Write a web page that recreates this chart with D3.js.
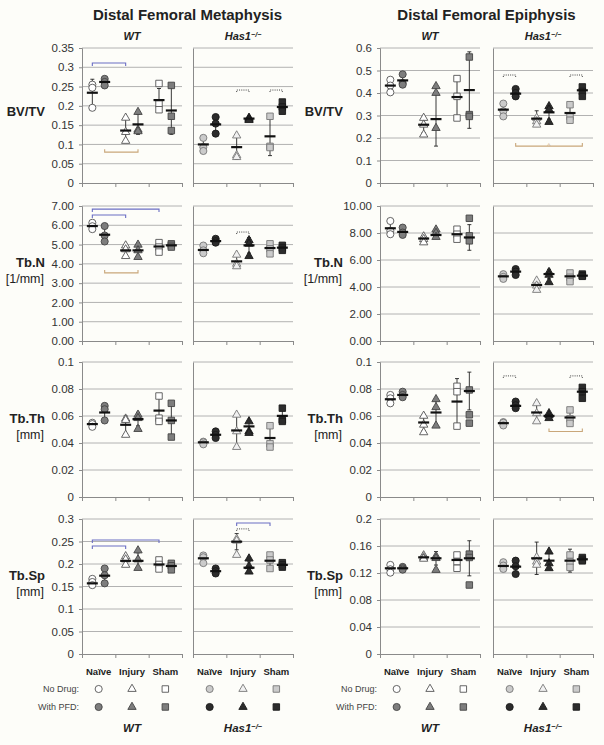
<!DOCTYPE html>
<html>
<head>
<meta charset="utf-8">
<script src="https://cdn.jsdelivr.net/npm/d3@7"></script>
<style>
body { margin: 0; background: #fdfdf9; }
text { font-family: "Liberation Sans", Arial, Helvetica, sans-serif; }
</style>
</head>
<body>
<script>

var categories = ["Naïve", "Injury", "Sham"];
var genotypes = ["WT", "Has1"];
var rowNames = [["BV/TV"], ["Tb.N", "[1/mm]"], ["Tb.Th", "[mm]"], ["Tb.Sp", "[mm]"]];

// tick values, one list per row
var metaTicks = [
    [0, 0.05, 0.1, 0.15, 0.2, 0.25, 0.3, 0.35],
    [0, 1, 2, 3, 4, 5, 6, 7],
    [0, 0.02, 0.04, 0.06, 0.08, 0.1],
    [0, 0.05, 0.1, 0.15, 0.2, 0.25, 0.3]
];
var epiTicks = [
    [0, 0.1, 0.2, 0.3, 0.4, 0.5, 0.6],
    [0, 2, 4, 6, 8, 10],
    [0, 0.02, 0.04, 0.06, 0.08, 0.1],
    [0, 0.04, 0.08, 0.12, 0.16, 0.2]
];

// 12 groups per panel row: WT (Naive no/PFD, Injury no/PFD, Sham no/PFD), then Has1 same order
var metaBVTV = [
    {p:[0.255,0.247,0.195], m:0.234, sd:0.035},
    {p:[0.270,0.262,0.253], m:0.262, sd:0.008},
    {p:[0.169,0.132,0.109], m:0.136, sd:0.030},
    {p:[0.184,0.138,0.134], m:0.152, sd:0.026},
    {p:[0.258,0.205,0.190], m:0.215, sd:0.030},
    {p:[0.253,0.173,0.136], m:0.188, sd:0.062},
    {p:[0.117,0.093,0.083], m:0.100, sd:0.015},
    {p:[0.171,0.154,0.128], m:0.152, sd:0.020},
    {p:[0.123,0.072,0.067], m:0.093, sd:0.032},
    {p:[0.169,0.166,0.163], m:0.167, sd:0.004},
    {p:[0.173,0.095,0.092], m:0.121, sd:0.050},
    {p:[0.210,0.197,0.186], m:0.197, sd:0.012}
];
var epiBVTV = [
    {p:[0.459,0.433,0.403], m:0.433, sd:0.028},
    {p:[0.483,0.444,0.437], m:0.456, sd:0.022},
    {p:[0.289,0.259,0.215], m:0.259, sd:0.035},
    {p:[0.430,0.400,0.244], m:0.284, sd:0.120},
    {p:[0.464,0.385,0.289], m:0.382, sd:0.082},
    {p:[0.560,0.304,0.296], m:0.413, sd:0.170},
    {p:[0.353,0.319,0.296], m:0.326, sd:0.030},
    {p:[0.418,0.400,0.385], m:0.397, sd:0.015},
    {p:[0.289,0.274,0.259], m:0.286, sd:0.035},
    {p:[0.341,0.326,0.271], m:0.314, sd:0.030},
    {p:[0.348,0.296,0.279], m:0.311, sd:0.035},
    {p:[0.427,0.407,0.385], m:0.412, sd:0.020}
];
var metaTbN = [
    {p:[6.13,5.95,5.80], m:5.96, sd:0.15},
    {p:[5.96,5.47,5.16], m:5.51, sd:0.40},
    {p:[4.95,4.75,4.40], m:4.70, sd:0.25},
    {p:[4.99,4.70,4.35], m:4.70, sd:0.30},
    {p:[5.10,4.87,4.61], m:4.90, sd:0.25},
    {p:[5.04,4.96,4.87], m:4.96, sd:0.08},
    {p:[4.95,4.70,4.55], m:4.72, sd:0.20},
    {p:[5.30,5.18,5.10], m:5.18, sd:0.10},
    {p:[4.47,4.00,3.87], m:4.13, sd:0.30},
    {p:[5.22,5.04,4.40], m:4.96, sd:0.40},
    {p:[5.04,4.78,4.52], m:4.82, sd:0.25},
    {p:[4.96,4.82,4.70], m:4.84, sd:0.12}
];
var epiTbN = [
    {p:[8.89,8.16,7.91], m:8.35, sd:0.50},
    {p:[8.40,8.03,7.86], m:8.08, sd:0.28},
    {p:[7.74,7.54,7.30], m:7.59, sd:0.20},
    {p:[8.25,8.00,7.70], m:7.85, sd:0.25},
    {p:[8.28,7.91,7.54], m:7.91, sd:0.35},
    {p:[9.09,7.79,7.42], m:7.67, sd:0.95},
    {p:[4.95,4.75,4.60], m:4.79, sd:0.17},
    {p:[5.33,5.14,4.89], m:5.14, sd:0.15},
    {p:[4.47,4.10,3.78], m:4.15, sd:0.30},
    {p:[5.10,4.90,4.35], m:4.96, sd:0.35},
    {p:[5.04,4.72,4.40], m:4.79, sd:0.30},
    {p:[4.96,4.84,4.79], m:4.84, sd:0.10}
];
var metaTbTh = [
    {p:[0.055,0.054,0.052], m:0.054, sd:0.002},
    {p:[0.0675,0.065,0.0567], m:0.0626, sd:0.005},
    {p:[0.058,0.057,0.046], m:0.0535, sd:0.0065},
    {p:[0.0609,0.0584,0.0503], m:0.0577, sd:0.005},
    {p:[0.0748,0.0584,0.056], m:0.064, sd:0.010},
    {p:[0.0694,0.0567,0.0444], m:0.0567, sd:0.012},
    {p:[0.041,0.0405,0.039], m:0.0405, sd:0.001},
    {p:[0.0486,0.046,0.0437], m:0.0461, sd:0.002},
    {p:[0.0609,0.0486,0.037], m:0.0493, sd:0.012},
    {p:[0.056,0.0486,0.0474], m:0.0523, sd:0.004},
    {p:[0.0528,0.0395,0.037], m:0.0437, sd:0.008},
    {p:[0.0658,0.0572,0.056], m:0.0601, sd:0.005}
];
var epiTbTh = [
    {p:[0.0756,0.0731,0.0694], m:0.0724, sd:0.003},
    {p:[0.078,0.0756,0.0739], m:0.0756, sd:0.002},
    {p:[0.0601,0.0535,0.0479], m:0.0552, sd:0.006},
    {p:[0.0724,0.0665,0.0528], m:0.0626, sd:0.010},
    {p:[0.082,0.078,0.0525], m:0.0707, sd:0.017},
    {p:[0.0793,0.0609,0.0547], m:0.0785, sd:0.014},
    {p:[0.0555,0.055,0.053], m:0.0547, sd:0.001},
    {p:[0.0707,0.068,0.0658], m:0.0675, sd:0.002},
    {p:[0.0694,0.062,0.056], m:0.0626, sd:0.006},
    {p:[0.062,0.0605,0.0584], m:0.0601, sd:0.002},
    {p:[0.0645,0.058,0.0545], m:0.0589, sd:0.005},
    {p:[0.0812,0.078,0.0731], m:0.078, sd:0.003}
];
var metaTbSp = [
    {p:[0.167,0.160,0.153], m:0.157, sd:0.007},
    {p:[0.190,0.175,0.157], m:0.174, sd:0.015},
    {p:[0.217,0.210,0.198], m:0.207, sd:0.008},
    {p:[0.230,0.210,0.191], m:0.207, sd:0.018},
    {p:[0.209,0.199,0.189], m:0.199, sd:0.010},
    {p:[0.2015,0.196,0.187], m:0.1956, sd:0.007},
    {p:[0.219,0.215,0.202], m:0.2127, sd:0.008},
    {p:[0.190,0.184,0.179], m:0.184, sd:0.005},
    {p:[0.2556,0.2518,0.220], m:0.2496, sd:0.018},
    {p:[0.212,0.195,0.183], m:0.1918, sd:0.013},
    {p:[0.220,0.209,0.190], m:0.2073, sd:0.015},
    {p:[0.203,0.198,0.193], m:0.198, sd:0.005}
];
var epiTbSp = [
    {p:[0.132,0.1255,0.1205], m:0.127, sd:0.005},
    {p:[0.129,0.127,0.125], m:0.127, sd:0.003},
    {p:[0.146,0.143,0.141], m:0.1432, sd:0.003},
    {p:[0.145,0.142,0.1244], m:0.1418, sd:0.010},
    {p:[0.1467,0.1368,0.127], m:0.1393, sd:0.010},
    {p:[0.148,0.143,0.1022], m:0.1418, sd:0.026},
    {p:[0.136,0.131,0.126], m:0.1304, sd:0.006},
    {p:[0.1383,0.130,0.1185], m:0.1294, sd:0.009},
    {p:[0.1432,0.1368,0.132], m:0.1418, sd:0.024},
    {p:[0.1516,0.1343,0.127], m:0.1383, sd:0.012},
    {p:[0.1467,0.1368,0.1284], m:0.1383, sd:0.017},
    {p:[0.143,0.140,0.138], m:0.1403, sd:0.003}
];

// significance brackets: a/b = group index inside the genotype (0..5), y in data units
var brackets = [
    {row:0, block:0, g:0, a:0, b:2, y:0.311, kind:"blue"},
    {row:0, block:0, g:0, a:1, b:3, y:0.080, kind:"tan"},
    {row:0, block:0, g:1, a:2, b:3, y:0.241, kind:"dot"},
    {row:0, block:0, g:1, a:4, b:5, y:0.241, kind:"dot"},
    {row:0, block:1, g:1, a:0, b:1, y:0.480, kind:"dot"},
    {row:0, block:1, g:1, a:4, b:5, y:0.480, kind:"dot"},
    {row:0, block:1, g:1, a:1, b:5, y:0.164, kind:"tan", mark:true},
    {row:1, block:0, g:0, a:0, b:4, y:6.84, kind:"blue"},
    {row:1, block:0, g:0, a:0, b:2, y:6.53, kind:"blue"},
    {row:1, block:0, g:0, a:1, b:3, y:3.53, kind:"tan"},
    {row:1, block:0, g:1, a:2, b:3, y:5.65, kind:"dot"},
    {row:2, block:1, g:1, a:0, b:1, y:0.0897, kind:"dot"},
    {row:2, block:1, g:1, a:4, b:5, y:0.0897, kind:"dot"},
    {row:2, block:1, g:1, a:3, b:5, y:0.0485, kind:"tan"},
    {row:3, block:0, g:0, a:0, b:4, y:0.2533, kind:"blue"},
    {row:3, block:0, g:0, a:0, b:2, y:0.240, kind:"blue"},
    {row:3, block:0, g:1, a:2, b:4, y:0.291, kind:"blue"},
    {row:3, block:0, g:1, a:2, b:3, y:0.278, kind:"dot"}
];

var blockData = [[metaBVTV, metaTbN, metaTbTh, metaTbSp], [epiBVTV, epiTbN, epiTbTh, epiTbSp]];
var blockTicks = [metaTicks, epiTicks];
var blockTitles = ["Distal Femoral Metaphysis", "Distal Femoral Epiphysis"];

// layout
var width = 604, height = 745;
var rowTop = [48, 206, 362, 519];
var rowH = 135;
var panelW = 100;
var panelX = [[82, 193], [380, 493]];
var drugOffset = [0.31, 0.68];

var fills = [["#ffffff", "#7d7d7d"], ["#cbcbcb", "#2c2c2c"]];
var strokes = [["#555", "#444"], ["#777", "#1a1a1a"]];
var shapes = [d3.symbolCircle, d3.symbolTriangle, d3.symbolSquare];
var shapeSize = [40, 30, 42];
var bracketColor = { blue: "#6b6ec4", tan: "#c9a77a", dot: "#444" };

// Has1 no-drug triangles read almost white in the figure
function fillFor(g, dr, c) {
    if (g == 1 && dr == 0 && c == 1) return "#f1f1f1";
    return fills[g][dr];
}

var svg = d3.select('body').append('svg')
    .attr('width', width)
    .attr('height', height);

function fmtFor(row) {
    return row == 1 ? d3.format(".2f") : d3.format("~g");
}

function genoLabel(sel, g) {
    if (g == 0) { sel.text("WT"); return; }
    sel.append('tspan').text("Has1");
    sel.append('tspan').attr('font-size', '0.65em').attr('dy', '-0.45em').text("−/−");
}

blockTitles.forEach(function(t, bi) {
    var cx = (panelX[bi][0] + panelX[bi][1] + panelW) / 2;
    svg.append('text')
        .attr('x', cx).attr('y', 20)
        .attr('text-anchor', 'middle')
        .attr('font-size', '15px').attr('font-weight', 'bold')
        .attr('fill', '#222')
        .text(t);

    genotypes.forEach(function(gn, g) {
        var x0 = panelX[bi][g];
        svg.append('text')
            .attr('x', x0 + panelW / 2).attr('y', 40)
            .attr('text-anchor', 'middle')
            .attr('font-size', '11px').attr('font-weight', 'bold').attr('font-style', 'italic')
            .attr('fill', '#222')
            .call(genoLabel, g);
    });
});

blockData.forEach(function(rowsData, bi) {
    rowsData.forEach(function(groups, ri) {

        var ticks = blockTicks[bi][ri];
        var top = rowTop[ri];
        var y = d3.scaleLinear()
            .domain([0, d3.max(ticks)])
            .range([top + rowH, top]);

        // row label
        var lab = svg.append('text')
            .attr('text-anchor', 'end')
            .attr('fill', '#222');
        var lx = panelX[bi][0] - 37;
        var mid = top + rowH / 2;
        if (rowNames[ri].length == 1) {
            lab.attr('x', lx).attr('y', mid)
                .attr('font-size', '13px').attr('font-weight', 'bold')
                .text(rowNames[ri][0]);
        } else {
            lab.attr('x', lx).attr('y', mid - 7)
                .attr('font-size', '13px').attr('font-weight', 'bold')
                .text(rowNames[ri][0]);
            svg.append('text')
                .attr('x', lx - 1).attr('y', mid + 9)
                .attr('text-anchor', 'end')
                .attr('font-size', '12.5px')
                .attr('fill', '#222')
                .text(rowNames[ri][1]);
        }

        genotypes.forEach(function(gn, g) {
            var x0 = panelX[bi][g];
            var xb = d3.scaleBand().domain(categories).range([x0, x0 + panelW]);
            var panel = svg.append('g');

            // gridlines
            panel.selectAll('line.grid')
                .data(ticks.filter(function(t) { return t > 0; }))
                .enter().append('line')
                    .attr('x1', x0).attr('x2', x0 + panelW)
                    .attr('y1', function(d) { return y(d); })
                    .attr('y2', function(d) { return y(d); })
                    .attr('stroke', '#a9a9a9')
                    .attr('stroke-width', 0.9);

            // left axis
            var ax = d3.axisLeft(y).tickValues(ticks).tickSizeOuter(0)
                .tickSize(g == 0 ? 3 : 0)
                .tickFormat(g == 0 ? fmtFor(ri) : "");
            var axg = panel.append('g')
                .attr('transform', 'translate(' + x0 + ',0)')
                .call(ax);
            axg.select('.domain').attr('stroke', '#8a8a8a');
            axg.selectAll('.tick line').attr('stroke', '#8a8a8a');
            axg.selectAll('.tick text')
                .attr('font-size', '11.5px').attr('fill', '#333')
                .attr('font-family', '"Liberation Sans", Arial, sans-serif')
                .attr('dx', '-2');

            // bottom axis with category boundary ticks
            var xl = d3.scaleLinear().domain([0, 3]).range([x0, x0 + panelW]);
            var bx = panel.append('g')
                .attr('transform', 'translate(0,' + y(0) + ')')
                .call(d3.axisBottom(xl).tickValues([0, 1, 2, 3]).tickFormat("").tickSize(4).tickSizeOuter(0));
            bx.select('.domain').attr('stroke', '#8a8a8a');
            bx.selectAll('.tick line').attr('stroke', '#8a8a8a');

            var gs = groups.slice(g * 6, g * 6 + 6).map(function(d, i) {
                var c = Math.floor(i / 2), dr = i % 2;
                return {d: d, c: c, dr: dr, x: xb(categories[c]) + xb.bandwidth() * drugOffset[dr]};
            });

            // error bars
            var eb = panel.selectAll('g.err').data(gs).enter().append('g')
                .attr('stroke', '#222').attr('stroke-width', 0.9);
            eb.append('line')
                .attr('x1', function(e) { return e.x; }).attr('x2', function(e) { return e.x; })
                .attr('y1', function(e) { return y(e.d.m + e.d.sd); })
                .attr('y2', function(e) { return y(e.d.m - e.d.sd); });
            [1, -1].forEach(function(s) {
                eb.append('line')
                    .attr('x1', function(e) { return e.x - 2; }).attr('x2', function(e) { return e.x + 2; })
                    .attr('y1', function(e) { return y(e.d.m + s * e.d.sd); })
                    .attr('y2', function(e) { return y(e.d.m + s * e.d.sd); });
            });

            // points
            gs.forEach(function(e) {
                panel.selectAll(null)
                    .data(e.d.p)
                    .enter().append('path')
                        .attr('d', d3.symbol().type(shapes[e.c]).size(shapeSize[e.c]))
                        .attr('transform', function(v) { return 'translate(' + e.x + ',' + y(v) + ')'; })
                        .attr('fill', fillFor(g, e.dr, e.c))
                        .attr('stroke', strokes[g][e.dr])
                        .attr('stroke-width', 0.9);
            });

            // mean bars
            panel.selectAll('line.mean').data(gs).enter().append('line')
                .attr('x1', function(e) { return e.x - 5.5; }).attr('x2', function(e) { return e.x + 5.5; })
                .attr('y1', function(e) { return y(e.d.m); })
                .attr('y2', function(e) { return y(e.d.m); })
                .attr('stroke', '#111')
                .attr('stroke-width', 2.2);

            // brackets
            brackets.filter(function(b) { return b.row == ri && b.block == bi && b.g == g; })
                .forEach(function(b) {
                    var xa = gs[b.a].x, xz = gs[b.b].x, yy = y(b.y);
                    var tk = b.kind == "tan" ? -3 : (b.kind == "dot" ? 2 : 3);
                    var path = panel.append('path')
                        .attr('d', 'M' + xa + ',' + (yy + tk) + 'V' + yy + 'H' + xz + 'V' + (yy + tk))
                        .attr('fill', 'none')
                        .attr('stroke', bracketColor[b.kind])
                        .attr('stroke-width', b.kind == "dot" ? 1 : 1.1);
                    if (b.kind == "dot") path.attr('stroke-dasharray', '1,1.2');
                    if (b.mark) {
                        panel.append('text')
                            .attr('x', (xa + xz) / 2).attr('y', yy + 2)
                            .attr('text-anchor', 'middle')
                            .attr('font-size', '7px')
                            .attr('fill', bracketColor.tan)
                            .text('^');
                    }
                });
        });
    });

    // bottom category labels and legend
    var lx0 = panelX[bi][0];
    svg.append('text').attr('x', lx0 - 3).attr('y', 692)
        .attr('text-anchor', 'end').attr('font-size', '9px').attr('fill', '#444').text('No Drug:');
    svg.append('text').attr('x', lx0 - 3).attr('y', 710)
        .attr('text-anchor', 'end').attr('font-size', '9px').attr('fill', '#444').text('With PFD:');

    genotypes.forEach(function(gn, g) {
        var x0 = panelX[bi][g];
        var xb = d3.scaleBand().domain(categories).range([x0, x0 + panelW]);

        svg.selectAll(null).data(categories).enter().append('text')
            .attr('x', function(c) { return xb(c) + xb.bandwidth() / 2; })
            .attr('y', 675)
            .attr('text-anchor', 'middle')
            .attr('font-size', '9.5px').attr('font-weight', 'bold')
            .attr('fill', '#222')
            .text(function(c) { return c; });

        [689, 707].forEach(function(ly, dr) {
            svg.selectAll(null).data(categories).enter().append('path')
                .attr('d', function(c, i) { return d3.symbol().type(shapes[i]).size(shapeSize[i])(); })
                .attr('transform', function(c) { return 'translate(' + (xb(c) + xb.bandwidth() / 2) + ',' + ly + ')'; })
                .attr('fill', function(c, i) { return fillFor(g, dr, i); })
                .attr('stroke', strokes[g][dr])
                .attr('stroke-width', 0.9);
        });

        svg.append('text')
            .attr('x', x0 + panelW / 2).attr('y', 732)
            .attr('text-anchor', 'middle')
            .attr('font-size', '11.5px').attr('font-weight', 'bold').attr('font-style', 'italic')
            .attr('fill', '#222')
            .call(genoLabel, g);
    });
});

</script>
</body>
</html>
